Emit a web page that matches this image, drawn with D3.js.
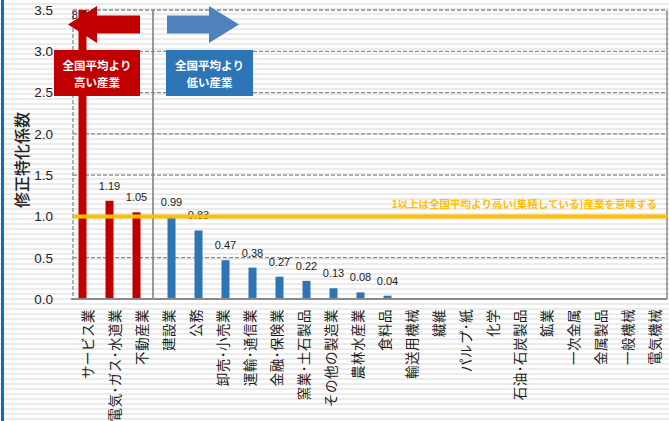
<!DOCTYPE html>
<html><head><meta charset="utf-8">
<script src="https://cdn.jsdelivr.net/npm/d3@7"></script>
<style>
html,body{margin:0;padding:0;background:#fff;}
svg{display:block;}
</style></head><body>
<svg id="chart" width="669" height="421"></svg>
<script>
// Industries, ordered by modified specialization coefficient
const categories = [
  "サービス業","電気･ガス･水道業","不動産業","建設業","公務","卸売･小売業",
  "運輸･通信業","金融･保険業","窯業･土石製品","その他の製造業","農林水産業",
  "食料品","輸送用機械","繊維","パルプ･紙","化学","石油･石炭製品","鉱業",
  "一次金属","金属製品","一般機械","電気機械"
];
// Series 1: industries above the national average (coefficient > 1)
const highValues = [8.23, 1.19, 1.05, null, null, null, null, null, null, null, null,
  null, null, null, null, null, null, null, null, null, null, null];
// Series 2: industries below the national average
const lowValues = [null, null, null, 0.99, 0.83, 0.47, 0.38, 0.27, 0.22, 0.13, 0.08,
  0.04, null, null, null, null, null, null, null, null, null, null];
const yTicks = [0, 0.5, 1.0, 1.5, 2.0, 2.5, 3.0, 3.5];
const seriesNames = ["high", "low"];
const seriesColors = {high: "#c00000", low: "#2e75b6"};
const threshold = 1.0;
const yTitle = "修正特化係数";
const noteText = "1以上は全国平均より高い(集積している)産業を意味する";

const W = 669, H = 421;
const plot = {left: 73, right: 667, top: 10, bottom: 299};
const svg = d3.select("#chart");

// striped page background
const defs = svg.append("defs");
const pat = defs.append("pattern").attr("id", "stripes")
  .attr("patternUnits", "userSpaceOnUse").attr("width", 8).attr("height", 5);
pat.append("rect").attr("width", 8).attr("height", 5).attr("fill", "#ffffff");
pat.append("rect").attr("y", 3).attr("width", 8).attr("height", 2).attr("fill", "#ebebeb");
svg.append("rect").attr("width", W).attr("height", H).attr("fill", "url(#stripes)");
// blue frame edge on the left
svg.append("rect").attr("x", 1).attr("y", 0).attr("width", 3).attr("height", H).attr("fill", "#0a6fc2");

const x0 = d3.scaleBand().domain(categories).range([plot.left, plot.right])
  .paddingInner(11 / 27).paddingOuter(11 / 54);
const x1 = d3.scaleBand().domain(seriesNames).range([0, x0.bandwidth()]);
const y = d3.scaleLinear().domain([0, 3.5]).range([plot.bottom, plot.top]).clamp(true);

// gridlines
svg.append("g").selectAll("line").data(yTicks.filter(d => d > 0)).join("line")
  .attr("x1", plot.left).attr("x2", plot.right)
  .attr("y1", d => y(d)).attr("y2", d => y(d))
  .attr("stroke", "#8a8a8a").attr("stroke-width", 1.3).attr("stroke-dasharray", "4,2");
// left dashed border
svg.append("line").attr("x1", plot.left).attr("x2", plot.left).attr("y1", plot.top).attr("y2", plot.bottom)
  .attr("stroke", "#8a8a8a").attr("stroke-width", 1.3).attr("stroke-dasharray", "4,2");
// right border
svg.append("line").attr("x1", plot.right).attr("x2", plot.right).attr("y1", plot.top).attr("y2", plot.bottom)
  .attr("stroke", "#8a8a8a").attr("stroke-width", 1.5);
// separator between the two groups
const sepX = x0(categories[3]) - x0.step() * x0.paddingInner() / 2 - 1;
svg.append("line").attr("x1", sepX).attr("x2", sepX).attr("y1", plot.top).attr("y2", plot.bottom)
  .attr("stroke", "#808080").attr("stroke-width", 1.6);

// y axis labels
const yAxis = d3.axisLeft(y).tickValues(yTicks).tickFormat(d3.format(".1f")).tickSize(0).tickPadding(0);
const yg = svg.append("g").attr("transform", `translate(${plot.left - 20},0)`).call(yAxis);
yg.select(".domain").remove();
yg.selectAll("text").attr("font-family", "Liberation Sans, Arial, sans-serif")
  .attr("font-size", 13.5).attr("fill", "#222");

// y title
svg.append("text").attr("transform", "translate(27.5,160) rotate(-90)")
  .attr("text-anchor", "middle").attr("font-family", "Noto Sans CJK JP")
  .attr("font-size", 16).attr("font-weight", 500).attr("fill", "#222").text(yTitle);

// bars
const rows = categories.map((c, i) => ({c, high: highValues[i], low: lowValues[i]}));
const barData = [];
rows.forEach(r => seriesNames.forEach(s => { if (r[s] != null) barData.push({c: r.c, s, v: r[s]}); }));

svg.append("g").selectAll("rect").data(barData).join("rect")
  .attr("x", d => x0(d.c) + x1(d.s)).attr("width", x1.bandwidth())
  .attr("y", d => y(d.v)).attr("height", d => y(0) - y(d.v))
  .attr("fill", d => seriesColors[d.s]);

// value labels
svg.append("g").selectAll("text").data(barData).join("text")
  .attr("x", d => x0(d.c) + x1(d.s) + x1.bandwidth() / 2)
  .attr("y", d => d.v > 3.5 ? y(3.5) + 9 : y(d.v) - 11)
  .attr("text-anchor", "middle").attr("font-family", "Liberation Sans, Arial, sans-serif")
  .attr("font-size", 11).attr("fill", "#222").text(d => d3.format(".2f")(d.v));

// bottom axis line
svg.append("line").attr("x1", plot.left - 2).attr("x2", plot.right).attr("y1", plot.bottom).attr("y2", plot.bottom)
  .attr("stroke", "#8a8a8a").attr("stroke-width", 1.8);

// category labels, rotated to read bottom-to-top
svg.append("g").selectAll("text").data(categories).join("text")
  .attr("transform", d => `translate(${x0(d) + x0.bandwidth() / 2},309) rotate(-90)`)
  .attr("text-anchor", "end").attr("dominant-baseline", "central")
  .attr("font-family", "Noto Sans CJK JP").attr("font-size", 13.5).attr("letter-spacing", 0.5)
  .attr("fill", "#1a1a1a")
  .text(d => d);

// national average threshold line
svg.append("line").attr("x1", plot.left).attr("x2", plot.right)
  .attr("y1", y(threshold)).attr("y2", y(threshold))
  .attr("stroke", "#ffc000").attr("stroke-width", 4);
svg.append("text").attr("x", 657).attr("y", y(threshold) - 8).attr("text-anchor", "end")
  .attr("font-family", "Noto Sans CJK JP").attr("font-weight", "bold")
  .attr("font-size", 10.5).attr("fill", "#ffc000").text(noteText);

// direction arrows with captions
function arrow(dir, x, yc, len, headLen, bodyH, headH, color) {
  const h = bodyH / 2, hh = headH / 2;
  let pts;
  if (dir === "left") {
    pts = [[x, yc], [x + headLen, yc - hh], [x + headLen, yc - h], [x + len, yc - h],
           [x + len, yc + h], [x + headLen, yc + h], [x + headLen, yc + hh]];
  } else {
    pts = [[x + len, yc], [x + len - headLen, yc - hh], [x + len - headLen, yc - h], [x, yc - h],
           [x, yc + h], [x + len - headLen, yc + h], [x + len - headLen, yc + hh]];
  }
  svg.append("path").attr("d", "M" + pts.join("L") + "Z").attr("fill", color);
}
arrow("left", 68, 24.5, 72, 29, 18, 37, "#c00000");
arrow("right", 167, 24.5, 72, 30, 18, 37, "#4f81bd");

function captionBox(x, w, color, lines) {
  svg.append("rect").attr("x", x).attr("y", 50).attr("width", w).attr("height", 46).attr("fill", color);
  svg.append("text").attr("x", x + w / 2).attr("y", 69.5).attr("text-anchor", "middle")
    .attr("font-family", "Noto Sans CJK JP").attr("font-weight", "bold").attr("font-size", 11.5)
    .attr("fill", "#fff").text(lines[0]);
  svg.append("text").attr("x", x + w / 2).attr("y", 86.5).attr("text-anchor", "middle")
    .attr("font-family", "Noto Sans CJK JP").attr("font-weight", "bold").attr("font-size", 11.5)
    .attr("fill", "#fff").text(lines[1]);
}
captionBox(54, 86, "#c00000", ["全国平均より", "高い産業"]);
captionBox(166, 87, "#2e75b6", ["全国平均より", "低い産業"]);
</script>
</body></html>
